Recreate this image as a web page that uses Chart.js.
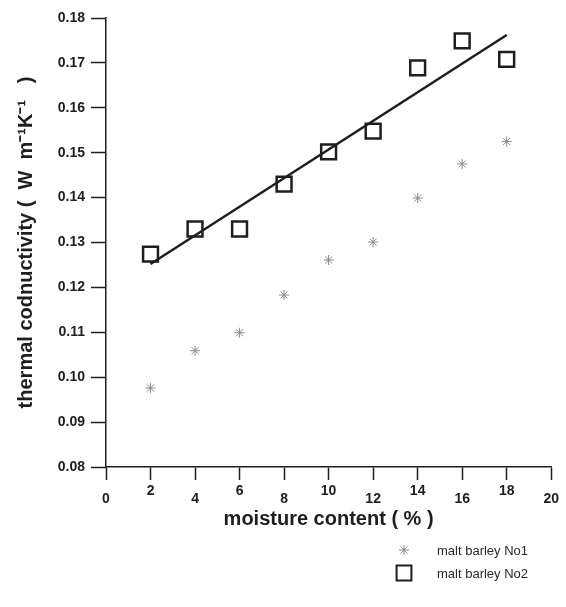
<!DOCTYPE html>
<html lang="en">
<head>
  <meta charset="UTF-8">
  <title>Thermal conductivity of malt barley</title>
  <script src="https://cdn.jsdelivr.net/npm/chart.js@4.4.1/dist/chart.umd.min.js"></script>
  <style>
    html, body { margin: 0; padding: 0; background: #fff; }
    #wrap { width: 566px; height: 607px; position: relative; }
  </style>
</head>
<body>
  <div id="wrap"><canvas id="chart" width="566" height="607"></canvas></div>
  <script>
    // values
    const moisture = [2, 4, 6, 8, 10, 12, 14, 16, 18];
    const barleyNo1 = [0.0976, 0.1059, 0.1099, 0.1183, 0.1261, 0.1301, 0.1399, 0.1475, 0.1525];
    const barleyNo2 = [0.1274, 0.1330, 0.1330, 0.1430, 0.1502, 0.1548, 0.1689, 0.1749, 0.1708];
    const fitX = [2, 18];
    const fitY = [0.1252, 0.1762];
    const seriesNames = ['malt barley No1', 'malt barley No2'];
    const xTitle = 'moisture content ( % )';
    const yTitle = 'thermal codnuctivity (  W  m\u207B\u00B9K\u207B\u00B9   )';

    const pts = (xs, ys) => xs.map((x, i) => ({ x: x, y: ys[i] }));
    const FONT = '"Liberation Sans", Arial, sans-serif';
    const INK = '#1e1e1e';

    const no1Style = { pointStyle: 'star', radius: 5, borderWidth: 1, borderColor: '#8a8a8a' };
    const no2Style = { pointStyle: 'rect', radius: 10.5, borderWidth: 2.5, borderColor: INK };

    // legend drawn in the lower right, like the original
    const sideLegend = {
      id: 'sideLegend',
      afterDraw(chart) {
        const ctx = chart.ctx;
        const rows = [[no1Style, 550], [no2Style, 573]];
        ctx.save();
        rows.forEach(([st, y], i) => {
          ctx.strokeStyle = st.borderColor;
          ctx.fillStyle = 'rgba(0,0,0,0)';
          ctx.lineWidth = i === 0 ? 1 : 2;
          Chart.helpers.drawPoint(ctx, {
            pointStyle: st.pointStyle,
            radius: i === 0 ? 5 : 10.5,
            borderWidth: ctx.lineWidth
          }, 404, y);
          ctx.fillStyle = '#2a2a2a';
          ctx.font = '13px ' + FONT;
          ctx.textBaseline = 'middle';
          ctx.textAlign = 'left';
          ctx.fillText(seriesNames[i], 437, y + 1);
        });
        ctx.restore();
      }
    };

    new Chart(document.getElementById('chart'), {
      type: 'scatter',
      data: {
        datasets: [
          {
            label: seriesNames[0],
            data: pts(moisture, barleyNo1),
            pointStyle: no1Style.pointStyle,
            pointRadius: no1Style.radius,
            pointBorderWidth: no1Style.borderWidth,
            pointBorderColor: no1Style.borderColor,
            pointBackgroundColor: 'transparent'
          },
          {
            label: seriesNames[1],
            data: pts(moisture, barleyNo2),
            pointStyle: no2Style.pointStyle,
            pointRadius: no2Style.radius,
            pointBorderWidth: no2Style.borderWidth,
            pointBorderColor: no2Style.borderColor,
            pointBackgroundColor: 'transparent'
          },
          {
            label: 'fit',
            type: 'line',
            data: pts(fitX, fitY),
            borderColor: INK,
            borderWidth: 2.5,
            pointRadius: 0,
            fill: false
          }
        ]
      },
      options: {
        responsive: false,
        animation: false,
        layout: { padding: { top: 18, right: 9, bottom: 0, left: 0 } },
        plugins: { legend: { display: false }, tooltip: { enabled: false } },
        scales: {
          x: {
            type: 'linear',
            min: 0, max: 20,
            afterFit(s) { s.height = 140; },
            border: { color: INK, width: 1.5 },
            grid: { drawOnChartArea: false, tickLength: 13, tickWidth: 1.5, tickColor: INK },
            ticks: {
              stepSize: 2,
              padding: 7,
              color: INK,
              font: { family: FONT, size: 14, weight: 'bold', lineHeight: '8px' },
              // labels alternate high / low as in the scanned figure
              callback: (v) => (v / 2) % 2 === 1 ? [String(v)] : ['', String(v)]
            },
            title: {
              display: true,
              text: xTitle,
              color: INK,
              font: { family: FONT, size: 20, weight: 'bold' },
              padding: { top: 0, bottom: 76 }
            }
          },
          y: {
            type: 'linear',
            min: 0.08, max: 0.18,
            afterFit(s) { s.width = 106; },
            border: { color: INK, width: 1.5 },
            grid: { drawOnChartArea: false, tickLength: 15, tickWidth: 1.5, tickColor: INK },
            ticks: {
              stepSize: 0.01,
              padding: 6,
              color: INK,
              font: { family: FONT, size: 14, weight: 'bold' },
              callback: (v) => v.toFixed(2)
            },
            title: {
              display: true,
              text: yTitle,
              color: INK,
              font: { family: FONT, size: 20, weight: 'bold' },
              padding: { top: 14, bottom: 0 }
            }
          }
        }
      },
      plugins: [sideLegend]
    });
  </script>
</body>
</html>
